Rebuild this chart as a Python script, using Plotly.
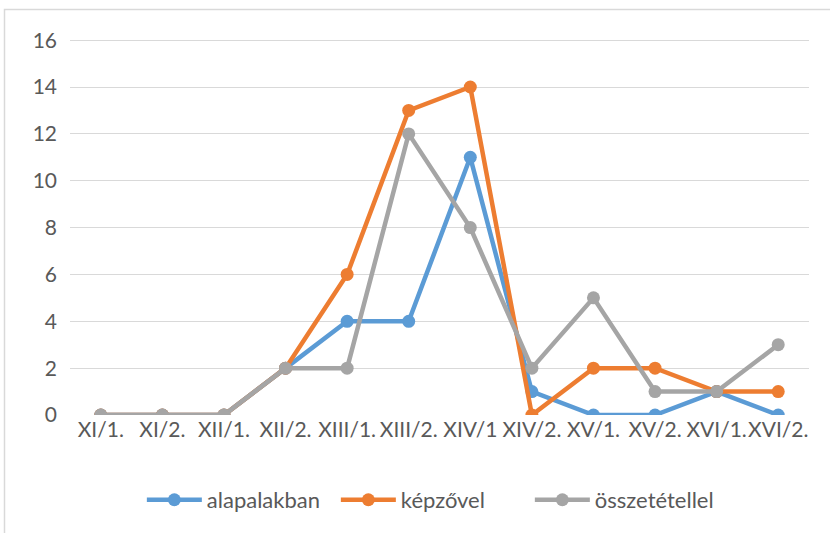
import plotly.graph_objects as go

categories = ["XI/1.", "XI/2.", "XII/1.", "XII/2.", "XIII/1.", "XIII/2.", "XIV/1",
              "XIV/2.", "XV/1.", "XV/2.", "XVI/1.", "XVI/2."]
alapalakban = [0, 0, 0, 2, 4, 4, 11, 1, 0, 0, 1, 0]
kepzovel = [0, 0, 0, 2, 6, 13, 14, 0, 2, 2, 1, 1]
osszetetellel = [0, 0, 0, 2, 2, 12, 8, 2, 5, 1, 1, 3]
y_ticks = [0, 2, 4, 6, 8, 10, 12, 14, 16]

series = [("alapalakban", alapalakban, "#5B9BD5"),
          ("képzővel", kepzovel, "#ED7D31"),
          ("összetétellel", osszetetellel, "#A5A5A5")]

fig = go.Figure()
for name, vals, col in series:
    fig.add_trace(go.Scatter(x=categories, y=vals, name=name, mode="lines+markers",
                             line=dict(color=col, width=4.5),
                             marker=dict(color=col, size=13)))

FONT = "Lato, Calibri, Carlito, sans-serif"
FS = 21
fig.update_layout(
    width=830, height=533,
    margin=dict(l=70, r=21, t=39, b=118, autoexpand=False),
    paper_bgcolor="white", plot_bgcolor="white",
    font=dict(family=FONT, size=FS, color="#595959"),
    showlegend=True,
    legend=dict(orientation="h", x=0.491, xanchor="center", y=-0.226, yanchor="middle",
                font=dict(size=22, color="#595959"), traceorder="normal",
                itemwidth=55, entrywidth=124, entrywidthmode="pixels"),
    xaxis=dict(type="category", range=[-0.5, 11.5], showgrid=False, showline=False,
               ticks="", zeroline=False, tickangle=0, automargin=False,
               tickfont=dict(size=FS, color="#595959")),
    yaxis=dict(range=[0, 16.05], tickvals=y_ticks, showgrid=True, gridcolor="#D9D9D9",
               gridwidth=1, zeroline=False, showline=False, ticks="", automargin=False,
               ticklabelstandoff=12, tickfont=dict(size=FS, color="#595959")),
    shapes=[dict(type="rect", xref="paper", yref="paper",
                 x0=(4.5 - 70) / 739, x1=1.2, y0=-0.6, y1=1 + (39 - 9.5) / 376,
                 line=dict(color="#D9D9D9", width=1.5), layer="below")],
)
fig.write_html("out.html", config={"displayModeBar": False},
               post_script="document.body.style.margin='0';")
